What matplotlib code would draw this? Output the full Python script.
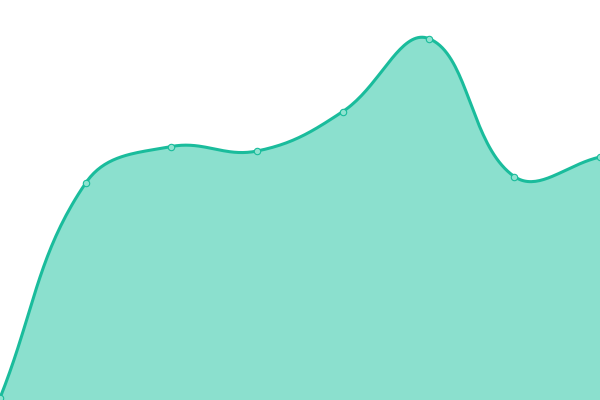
import matplotlib
matplotlib.use("Agg")
import matplotlib.pyplot as plt
import numpy as np

# values (0 = bottom edge, 400 = top edge)
labels = ["1", "2", "3", "4", "5", "6", "7", "8"]
values = [2, 217, 253.5, 249, 288.5, 361.5, 223.5, 243]

LINE = "#1abc9c"
FILL = "#8be0ce"
TENSION = 0.4
W, H = 600, 400


def spline(xs, ys, tension=TENSION, steps=40):
	"""cardinal-style curve like chart.js (control points from neighbours)"""
	n = len(xs)
	px = np.array(xs, float)
	py = np.array(ys, float)
	cp_prev = []
	cp_next = []
	for i in range(n):
		a = max(i - 1, 0)
		c = min(i + 1, n - 1)
		d01 = np.hypot(px[i] - px[a], py[i] - py[a])
		d12 = np.hypot(px[c] - px[i], py[c] - py[i])
		tot = d01 + d12
		s01 = d01 / tot if tot else 0
		s12 = d12 / tot if tot else 0
		fa = tension * s01
		fb = tension * s12
		cp_prev.append((px[i] - fa * (px[c] - px[a]), py[i] - fa * (py[c] - py[a])))
		cp_next.append((px[i] + fb * (px[c] - px[a]), py[i] + fb * (py[c] - py[a])))
	out_x, out_y = [px[0]], [py[0]]
	t = np.linspace(0, 1, steps)[1:]
	for i in range(n - 1):
		p0 = (px[i], py[i])
		p1 = cp_next[i]
		p2 = cp_prev[i + 1]
		p3 = (px[i + 1], py[i + 1])
		bx = (1 - t) ** 3 * p0[0] + 3 * (1 - t) ** 2 * t * p1[0] + 3 * (1 - t) * t ** 2 * p2[0] + t ** 3 * p3[0]
		by = (1 - t) ** 3 * p0[1] + 3 * (1 - t) ** 2 * t * p1[1] + 3 * (1 - t) * t ** 2 * p2[1] + t ** 3 * p3[1]
		out_x.extend(bx)
		out_y.extend(by)
	return np.array(out_x), np.array(out_y)


step = W / (len(labels) - 1)
xs = [i * step for i in range(len(labels))]
cx, cy = spline(xs, values)

fig = plt.figure(figsize=(6, 4), dpi=100)
ax = fig.add_axes([0, 0, 1, 1])
ax.fill_between(cx, 0, cy, color=FILL, linewidth=0)
ax.plot(cx, cy, color=LINE, linewidth=2.2, solid_capstyle="round")
ax.plot(xs, values, linestyle="none", marker="o", markersize=4.6,
	markerfacecolor="#8fe3d0", markeredgecolor=LINE, markeredgewidth=0.8)
ax.set_xlim(0, W)
ax.set_ylim(0, H)
ax.axis("off")
fig.savefig("out.png", dpi=100)
